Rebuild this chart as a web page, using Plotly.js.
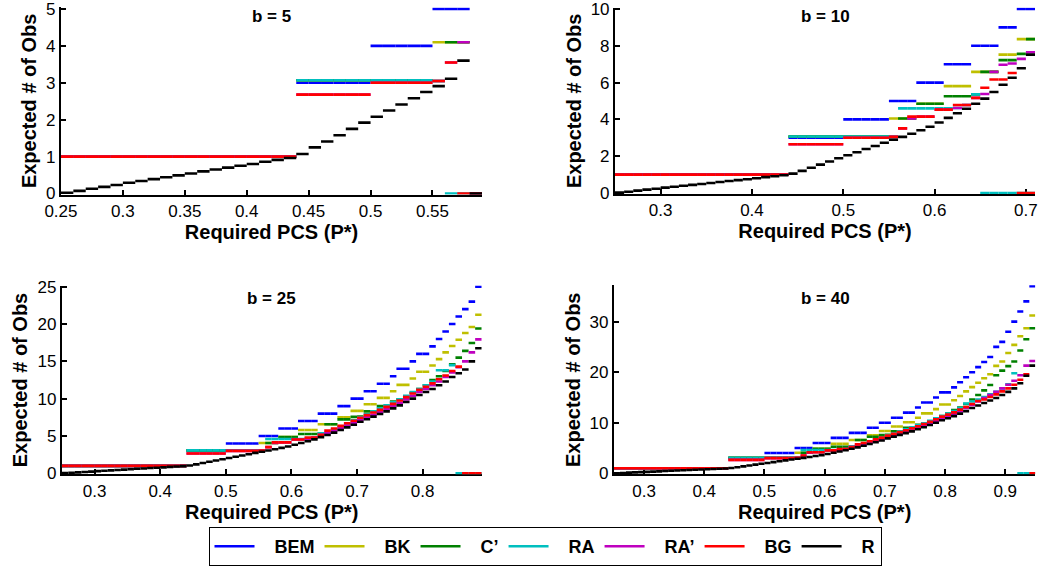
<!DOCTYPE html>
<html><head><meta charset="utf-8">
<script src="https://cdn.plot.ly/plotly-3.0.1.min.js"></script>
<style>html,body{margin:0;padding:0;background:#fff;} #chart{width:1042px;height:566px;}</style>
</head><body><div id="chart"></div>
<script>
// Required PCS grid (left edge of each step)
const pstar = [0.25,0.26,0.27,0.28,0.29,0.30,0.31,0.32,0.33,0.34,0.35,0.36,0.37,0.38,0.39,0.40,0.41,0.42,0.43,
  0.44,0.45,0.46,0.47,0.48,0.49,0.50,0.51,0.52,0.53,0.54,0.55,0.56,0.57,0.58,0.59,0.60,0.61,0.62,0.63,0.64,
  0.65,0.66,0.67,0.68,0.69,0.70,0.71,0.72,0.73,0.74,0.75,0.76,0.77,0.78,0.79,0.80,0.81,0.82,0.83,0.84,
  0.85,0.86,0.87,0.88,0.89,0.90,0.91,0.92,0.93,0.94];

const seriesNames = ['BEM','BK','C\u2019','RA','RA\u2019','BG','R'];
const panelTitles = ['b = 5','b = 10','b = 25','b = 40'];

// ---- b = 5 ----
const b5_BEM = [1,1,1,1,1,1,1,1,1,1,1,1,1,1,1,1,1,1,1, 3,3,3,3,3,3, 4,4,4,4,4, 5,5,5, 0];
const b5_BK  = [1,1,1,1,1,1,1,1,1,1,1,1,1,1,1,1,1,1,1, 3.07,3.07,3.07,3.07,3.07,3.07,3.07,3.07,3.07,3.07,3.07, 4.1,4.1,4.1, 0];
const b5_C   = [1,1,1,1,1,1,1,1,1,1,1,1,1,1,1,1,1,1,1, 3.07,3.07,3.07,3.07,3.07,3.07,3.07,3.07,3.07,3.07,3.07, 3.05,4.1,4.1, 0];
const b5_RA  = [1,1,1,1,1,1,1,1,1,1,1,1,1,1,1,1,1,1,1, 3.07,3.07,3.07,3.07,3.07,3.07,3.07,3.07,3.07,3.07,3.07, 3.05,0,0, 0];
const b5_RAp = [1,1,1,1,1,1,1,1,1,1,1,1,1,1,1,1,1,1,1, 2.68,2.68,2.68,2.68,2.68,2.68, 3.0,3.0,3.0,3.0,3.0, 3.05,3.55,4.1, 0];
const b5_BG  = [1,1,1,1,1,1,1,1,1,1,1,1,1,1,1,1,1,1,1, 2.68,2.68,2.68,2.68,2.68,2.68, 3.0,3.0,3.0,3.0,3.0, 3.05,3.55,0, 0];
const b5_R   = [0.02,0.07,0.13,0.18,0.23,0.29,0.34,0.39,0.44,0.49,0.54,0.6,0.65,0.7,0.75,0.8,0.86,0.91,0.96,
  1.07,1.25,1.41,1.58,1.75,1.92,2.08,2.25,2.41,2.58,2.75,2.91,3.11,3.6,0];

// ---- b = 10 ----
const b10_BEM = [1,1,1,1,1,1,1,1,1,1,1,1,1,1,1,1,1,1,1, 3,3,3,3,3,3, 4,4,4,4,4, 5,5,5, 6,6,6, 7,7,7, 8,8,8, 9,9, 10,10];
const b10_BK  = [1,1,1,1,1,1,1,1,1,1,1,1,1,1,1,1,1,1,1, 3.07,3.07,3.07,3.07,3.07,3.07,3.07,3.07,3.07,3.07,3.07,
  4.05,4.05,4.05, 4.85,4.85,4.85, 5.81,5.81,5.81, 6.58,6.58,6.58, 7.52,7.52, 8.36,8.36];
const b10_C   = [1,1,1,1,1,1,1,1,1,1,1,1,1,1,1,1,1,1,1, 3.07,3.07,3.07,3.07,3.07,3.07,3.07,3.07,3.07,3.07,3.07,
  3.05, 4.05,4.05, 4.85,4.85,4.85, 5.26,5.26,5.26, 5.36, 6.58,6.58, 7.22,7.22, 7.56, 8.36];
const b10_RA  = [1,1,1,1,1,1,1,1,1,1,1,1,1,1,1,1,1,1,1, 3.07,3.07,3.07,3.07,3.07,3.07,3.07,3.07,3.07,3.07,3.07,
  3.05, 4.6,4.6,4.6,4.6,4.6,4.6, 4.62, 4.78, 5.36, 0,0,0,0,0,0];
const b10_RAp = [1,1,1,1,1,1,1,1,1,1,1,1,1,1,1,1,1,1,1, 2.65,2.65,2.65,2.65,2.65,2.65, 3.0,3.0,3.0,3.0,3.0,
  3.05, 3.51, 4.05, 4.15,4.15, 4.53,4.53, 4.62, 4.78, 5.17, 5.38, 6.58, 6.97, 7.04, 7.29, 7.65];
const b10_BG  = [1,1,1,1,1,1,1,1,1,1,1,1,1,1,1,1,1,1,1, 2.65,2.65,2.65,2.65,2.65,2.65, 3.0,3.0,3.0,3.0,3.0,
  3.05, 3.51, 4.15,4.15,4.15, 4.53,4.53, 4.78,4.78, 5.17, 5.72, 6.17,6.17, 6.52, 0,0];
const b10_R   = [0.02,0.07,0.13,0.18,0.23,0.29,0.34,0.39,0.44,0.49,0.54,0.6,0.65,0.7,0.75,0.8,0.86,0.91,0.96,
  1.05,1.2,1.37,1.54,1.71,1.89,2.05,2.21,2.39,2.55,2.73,2.89,3.05,3.22,3.41,3.6,3.83,4.08,4.33,4.58,4.85,5.13,5.49,5.88,6.26,6.78,7.52];

// ---- b = 25 ----
const b25_BEM = [1,1,1,1,1,1,1,1,1,1,1,1,1,1,1,1,1,1,1, 3,3,3,3,3,3, 4,4,4,4,4, 5,5,5, 6,6,6, 7,7,7, 8,8,8, 9,9, 10,10,
  11,11, 12,12, 13, 14,14, 15, 16,16, 17, 18, 19, 20, 21, 22, 23, 25];
const b25_BK  = [1,1,1,1,1,1,1,1,1,1,1,1,1,1,1,1,1,1,1, 3.07,3.07,3.07,3.07,3.07,3.07,3.07,3.07,3.07,3.07,3.07,
  4.05,4.05,4.05, 4.85,4.85,4.85, 5.81,5.81,5.81, 6.58,6.58,6.58, 7.52,7.52, 8.36,8.36, 9.25,9.25, 10.1,10.1, 11.0,
  11.85,11.85, 12.7, 13.6,13.6, 14.45, 15.3, 16.2, 17.05, 17.9, 18.8, 19.6, 21.25];
const b25_C   = [1,1,1,1,1,1,1,1,1,1,1,1,1,1,1,1,1,1,1, 3.07,3.07,3.07,3.07,3.07,3.07,3.07,3.07,3.07,3.07,3.07,
  3.05, 4.05,4.05, 4.85,4.85,4.85, 5.26,5.26,5.26, 5.36, 6.58,6.58, 7.22,7.22, 7.56,7.6, 8.3,8.3, 9.0,9.0,
  9.6, 9.9, 10.3, 10.8, 11.3, 11.8, 12.5, 13.0, 13.7, 14.6, 15.5, 16.4, 17.45, 19.4];
const b25_RA  = [1,1,1,1,1,1,1,1,1,1,1,1,1,1,1,1,1,1,1, 3.07,3.07,3.07,3.07,3.07,3.07,3.07,3.07,3.07,3.07,3.07,
  3.05, 4.6,4.6,4.6,4.6,4.6,4.6, 4.62, 4.78, 5.36,
  5.4,5.9,6.3,6.7,7.1,7.5,7.9,8.3,8.7,9.1,9.5,9.9,10.4,10.9,11.3,11.8,12.3,13.8,13.8,14.5, 0,0,0,0];
const b25_RAp = [1,1,1,1,1,1,1,1,1,1,1,1,1,1,1,1,1,1,1, 2.65,2.65,2.65,2.65,2.65,2.65, 3.0,3.0,3.0,3.0,3.0,
  3.05, 3.51, 4.05, 4.15,4.15, 4.53,4.53, 4.62, 4.78, 5.17,
  5.38,5.7,6.05,6.4,6.75,7.15,7.5,7.85,8.2,8.6,9.0,9.45,9.9,10.4,10.9,11.3,11.8,12.3,12.9,13.5,14.2,15.0,16.2,17.95];
const b25_BG  = [1,1,1,1,1,1,1,1,1,1,1,1,1,1,1,1,1,1,1, 2.65,2.65,2.65,2.65,2.65,2.65, 3.0,3.0,3.0,3.0,3.0,
  3.05, 3.51, 4.15,4.15,4.15, 4.53,4.53, 4.78,4.78, 5.17,
  5.72,6.0,6.35,6.7,7.05,7.45,7.8,8.15,8.5,8.9,9.3,9.75,10.2,10.7,11.2,11.6,12.05,12.6,13.1,13.7,14.3, 0,0,0];
const b25_R   = [0.02,0.07,0.13,0.18,0.23,0.29,0.34,0.39,0.44,0.49,0.54,0.6,0.65,0.7,0.75,0.8,0.86,0.91,0.96,
  1.05,1.2,1.37,1.54,1.71,1.89,2.05,2.21,2.39,2.55,2.73,2.89,3.05,3.22,3.41,3.6,3.83,
  4.05,4.3,4.55,4.85,5.13,5.45,5.8,6.15,6.5,6.9,7.25,7.6,7.95,8.3,8.7,9.1,9.55,10.0,10.5,10.9,11.3,11.8,12.3,12.9,13.4,13.9,15.0,16.75];

// ---- b = 40 ----
const b40_BEM = [1,1,1,1,1,1,1,1,1,1,1,1,1,1,1,1,1,1,1, 3,3,3,3,3,3, 4,4,4,4,4, 5,5,5, 6,6,6, 7,7,7, 8,8,8, 9,9, 10,10,
  11,11, 12,12, 13, 14,14, 15, 16,16, 17, 18, 19, 20, 21, 22, 23, 25, 26, 28, 30, 32, 34, 37];
const b40_BK  = [1,1,1,1,1,1,1,1,1,1,1,1,1,1,1,1,1,1,1, 3.07,3.07,3.07,3.07,3.07,3.07,3.07,3.07,3.07,3.07,3.07,
  4.05,4.05,4.05, 4.85,4.85,4.85, 5.81,5.81,5.81, 6.58,6.58,6.58, 7.52,7.52, 8.36,8.36, 9.25,9.25, 10.1,10.1, 11.0,
  11.85,11.85, 12.7, 13.6,13.6, 14.45, 15.3, 16.2, 17.05, 17.9, 18.8, 19.6, 21.25, 22.1, 23.8, 25.4, 27.1, 28.7, 31.2];
const b40_C   = [1,1,1,1,1,1,1,1,1,1,1,1,1,1,1,1,1,1,1, 3.07,3.07,3.07,3.07,3.07,3.07,3.07,3.07,3.07,3.07,3.07,
  3.05, 4.05,4.05, 4.85,4.85,4.85, 5.26,5.26,5.26, 5.36, 6.58,6.58, 7.22,7.22, 7.56,7.6, 8.3,8.3, 9.0,9.0,
  9.6, 9.9, 10.3, 10.8, 11.3, 11.8, 12.5, 13.0, 13.7, 14.6, 15.5, 16.4, 17.45, 19.4, 20.3, 21.2, 22.1, 24.3, 26.5, 28.7];
const b40_RA  = [1,1,1,1,1,1,1,1,1,1,1,1,1,1,1,1,1,1,1, 3.07,3.07,3.07,3.07,3.07,3.07,3.07,3.07,3.07,3.07,3.07,
  3.05, 4.6,4.6,4.6,4.6,4.6,4.6, 4.62, 4.78, 5.36,
  5.4,5.9,6.3,6.7,7.1,7.5,7.9,8.3,8.7,9.1,9.5,9.9,10.4,10.9,11.3,11.8,12.3,12.9,13.8,14.2,
  14.6,15.1,15.6,16.1,16.8,17.6,19.8, 0,0,0];
const b40_RAp = [1,1,1,1,1,1,1,1,1,1,1,1,1,1,1,1,1,1,1, 2.65,2.65,2.65,2.65,2.65,2.65, 3.0,3.0,3.0,3.0,3.0,
  3.05, 3.51, 4.05, 4.15,4.15, 4.53,4.53, 4.62, 4.78, 5.17,
  5.38,5.7,6.05,6.4,6.75,7.15,7.5,7.85,8.2,8.6,9.0,9.45,9.9,10.4,10.9,11.3,11.8,12.3,12.9,13.5,
  14.2,14.9,15.5,16.1,16.8,17.5,18.3,19.4,21.3,22.2];
const b40_BG  = [1,1,1,1,1,1,1,1,1,1,1,1,1,1,1,1,1,1,1, 2.65,2.65,2.65,2.65,2.65,2.65, 3.0,3.0,3.0,3.0,3.0,
  3.05, 3.51, 4.15,4.15,4.15, 4.53,4.53, 4.78,4.78, 5.17,
  5.72,6.0,6.35,6.7,7.05,7.45,7.8,8.15,8.5,8.9,9.3,9.75,10.2,10.7,11.2,11.6,12.05,12.6,13.1,13.7,
  14.3,14.6,15.1,15.6,16.2,16.8,17.5,18.5,19.6, 0];
const b40_R   = [0.02,0.07,0.13,0.18,0.23,0.29,0.34,0.39,0.44,0.49,0.54,0.6,0.65,0.7,0.75,0.8,0.86,0.91,0.96,
  1.05,1.2,1.37,1.54,1.71,1.89,2.05,2.21,2.39,2.55,2.73,2.89,3.05,3.22,3.41,3.6,3.83,
  4.05,4.3,4.55,4.85,5.13,5.45,5.8,6.15,6.5,6.9,7.25,7.6,7.95,8.3,8.7,9.1,9.55,10.0,10.5,10.9,11.3,11.8,12.3,12.9,
  13.4,13.9,14.4,14.9,15.5,16.1,16.8,17.8,19.3,21.3];

const panels = [
  [b5_BEM, b5_BK, b5_C, b5_RA, b5_RAp, b5_BG, b5_R],
  [b10_BEM, b10_BK, b10_C, b10_RA, b10_RAp, b10_BG, b10_R],
  [b25_BEM, b25_BK, b25_C, b25_RA, b25_RAp, b25_BG, b25_R],
  [b40_BEM, b40_BK, b40_C, b40_RA, b40_RAp, b40_BG, b40_R]
];

const colors = ['#0000ff','#bfbf00','#008000','#00bfbf','#bf00bf','#ff0000','#000000'];
const FONT = 'Liberation Sans, Arial, Helvetica, sans-serif';
const PAD = '\u00a0\u00a0\u00a0';

const traces = [];
const step = pstar[1] - pstar[0];
panels.forEach((series, p) => {
  const suffix = p === 0 ? '' : String(p + 1);
  series.forEach((vals, k) => {
    const X = [], Y = [];
    for (let i = 0; i < vals.length; i++) {
      X.push(pstar[i], pstar[i] + step, null);
      Y.push(vals[i], vals[i], null);
    }
    traces.push({
      type: 'scatter', mode: 'lines', x: X, y: Y,
      xaxis: 'x' + suffix, yaxis: 'y' + suffix,
      name: PAD + seriesNames[k], legendgroup: seriesNames[k], showlegend: p === 0,
      line: { color: colors[k], width: 2.6 }, hoverinfo: 'skip'
    });
  });
});

function common() {
  return {
    showline: true, linecolor: '#000', linewidth: 2, mirror: false,
    ticks: 'inside', ticklen: 5, tickwidth: 2, tickcolor: '#000',
    showgrid: false, zeroline: false, layer: 'below traces',
    ticklabeloverflow: 'allow',
    tickfont: { family: FONT, size: 17, color: '#000' }
  };
}
function xax(domain, range, dtick, tick0, anchor) {
  return Object.assign(common(), {
    domain, range, dtick, tick0, anchor,
    title: { text: 'Required PCS (P*)', font: { family: FONT, size: 20, color: '#000', weight: 'bold' }, standoff: 0 }
  });
}
function yax(domain, range, dtick, anchor) {
  return Object.assign(common(), {
    domain, range, dtick, tick0: 0, anchor,
    title: { text: 'Expected # of Obs', font: { family: FONT, size: 20, color: '#000', weight: 'bold' }, standoff: 4 }
  });
}

const titleY = [1 - 17/566, 1 - 17/566, 1 - 298/566, 1 - 298/566];
const titleX = [271.5/1042, 825/1042, 271.5/1042, 825/1042];

const layout = {
  width: 1042, height: 566,
  margin: { l: 0, r: 0, t: 0, b: 0 },
  paper_bgcolor: '#fff', plot_bgcolor: '#fff',
  font: { family: FONT, color: '#000' },
  xaxis:  xax([0.0585, 0.4626], [0.25, 0.59], 0.05, 0.25, 'y'),
  yaxis:  yax([0.6562, 0.9874], [-0.03, 5.05], 1, 'x'),
  xaxis2: xax([0.5902, 0.9933], [0.25, 0.71], 0.1, 0, 'y2'),
  yaxis2: yax([0.6571, 0.9867], [-0.06, 10.08], 2, 'x2'),
  xaxis3: xax([0.0593, 0.4623], [0.25, 0.89], 0.1, 0, 'y3'),
  yaxis3: yax([0.1618, 0.4954], [-0.15, 25.15], 5, 'x3'),
  xaxis4: xax([0.5892, 0.9936], [0.25, 0.95], 0.1, 0, 'y4'),
  yaxis4: yax([0.1620, 0.4961], [-0.2, 37.2], 10, 'x4'),
  annotations: panelTitles.map((t, i) => ({
    text: t, xref: 'paper', yref: 'paper', x: titleX[i], y: titleY[i],
    xanchor: 'center', yanchor: 'middle', showarrow: false,
    font: { family: FONT, size: 17, color: '#000', weight: 'bold' }
  })),
  legend: {
    orientation: 'h', x: 545/1042, xanchor: 'center', y: 1 - 546.5/566, yanchor: 'middle',
    bordercolor: '#000', borderwidth: 1, bgcolor: '#fff',
    font: { family: FONT, size: 18, color: '#000', weight: 'bold' },
    itemwidth: 40, traceorder: 'normal'
  },
  showlegend: true
};

Plotly.newPlot('chart', traces, layout, { staticPlot: true, displayModeBar: false });
</script>
</body></html>
